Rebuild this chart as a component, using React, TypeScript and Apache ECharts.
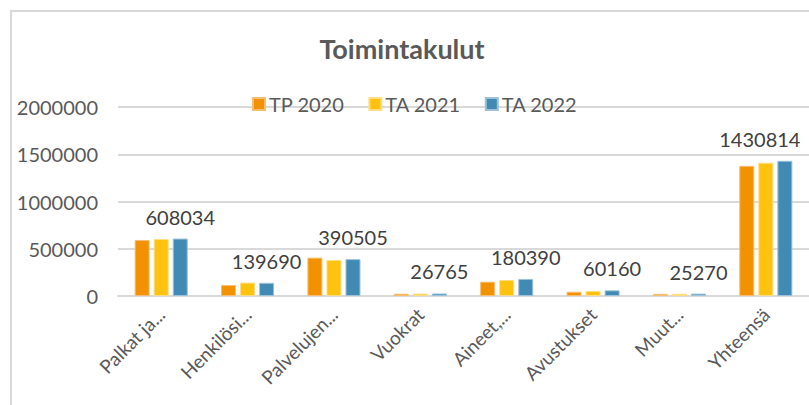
import React, { useEffect, useRef } from "react";
import * as echarts from "echarts";

const categories = [
  "Palkat ja...",
  "Henkilösi...",
  "Palvelujen...",
  "Vuokrat",
  "Aineet,...",
  "Avustukset",
  "Muut...",
  "Yhteensä",
];
const seriesNames = ["TP 2020", "TA 2021", "TA 2022"];
const tp2020 = [593000, 116000, 406000, 24000, 151000, 45000, 22000, 1377000];
const ta2021 = [603000, 142000, 381000, 25000, 169000, 53000, 23000, 1410000];
const ta2022 = [608034, 139690, 390505, 26765, 180390, 60160, 25270, 1430814];
const yTicks = { min: 0, max: 2000000, interval: 500000 };
const colors = ["#F39200", "#FFC20E", "#418AB3"];
const borderColors = ["#F8BE70", "#FFDD80", "#9CC2DA"];

const FONT = "Lato";

export default function App() {
  const ref = useRef<HTMLDivElement>(null);
  useEffect(() => {
    if (!ref.current) return;
    const chart = echarts.init(ref.current, undefined, { renderer: "svg" });
    const data = [tp2020, ta2021, ta2022];
    const lastIdx = categories.length - 1;
    chart.setOption({
      animation: false,
      backgroundColor: "#ffffff",
      textStyle: { fontFamily: FONT },
      title: {
        text: "Toimintakulut",
        left: 397,
        top: 30,
        textAlign: "center",
        textStyle: { fontFamily: FONT, fontSize: 27, fontWeight: "bold", color: "#595959" },
      },
      legend: {
        data: seriesNames,
        left: 252,
        top: 94,
        padding: 0,
        itemWidth: 12,
        itemHeight: 12,
        itemGap: 24,
        icon: "rect",
        textStyle: { fontFamily: FONT, fontSize: 20, color: "#595959", padding: [0, 0, 0, -1] },
      },
      graphic: [
        {
          type: "rect",
          shape: { x: 11, y: 11, width: 820, height: 420 },
          style: { fill: "none", stroke: "#d9d9d9", lineWidth: 2 },
          silent: true,
        },
      ],
      grid: { left: 118, right: -4, top: 107, bottom: 109, containLabel: false },
      xAxis: {
        type: "category",
        data: categories,
        axisLine: { show: true, lineStyle: { color: "#d9d9d9", width: 2 } },
        axisTick: { show: false },
        axisLabel: {
          rotate: 45,
          interval: 0,
          margin: 15,
          fontFamily: FONT,
          fontSize: 19,
          color: "#595959",
        },
      },
      yAxis: {
        type: "value",
        min: yTicks.min,
        max: yTicks.max,
        interval: yTicks.interval,
        axisLine: { show: false },
        axisTick: { show: false },
        splitLine: { lineStyle: { color: "#d9d9d9", width: 2 } },
        axisLabel: {
          margin: 20,
          fontFamily: FONT,
          fontSize: 20,
          color: "#595959",
          formatter: (v: number) => String(v),
        },
      },
      series: seriesNames.map((name, i) => ({
        name,
        type: "bar",
        data:
          i === 2
            ? data[i].map((v, j) =>
                j === lastIdx ? { value: v, label: { offset: [-25, 0] } } : v
              )
            : data[i],
        barWidth: 15,
        barGap: "27%",
        itemStyle: { color: colors[i], borderColor: borderColors[i], borderWidth: 1 },
        label:
          i === 2
            ? {
                show: true,
                position: "top",
                distance: 12,
                fontFamily: FONT,
                fontSize: 20,
                color: "#404040",
              }
            : { show: false },
      })),
    });
    return () => chart.dispose();
  }, []);
  return (
    <div
      ref={ref}
      style={{ position: "fixed", left: 0, top: 0, width: 809, height: 405 }}
    />
  );
}
